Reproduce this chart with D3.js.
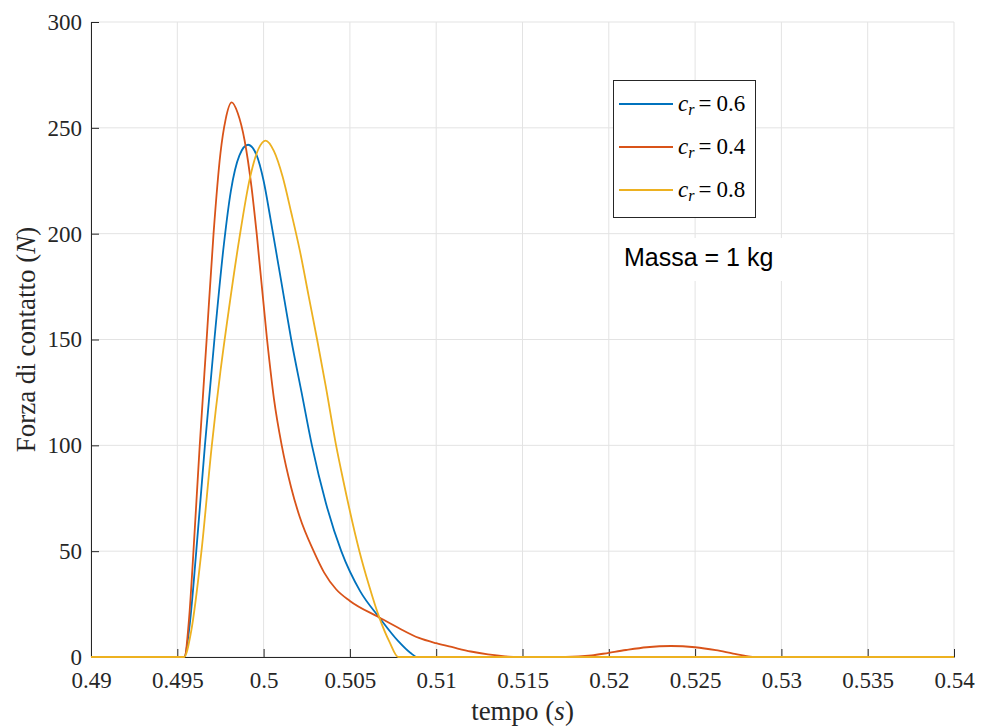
<!DOCTYPE html>
<html>
<head>
<meta charset="utf-8">
<script src="https://cdn.jsdelivr.net/npm/d3@7/dist/d3.min.js"></script>
<style>
  html, body { margin: 0; padding: 0; background: #fff; }
  svg { display: block; }
</style>
</head>
<body>
<svg id="chart" width="981" height="727"></svg>
<script>
// Contact force vs time for three restitution coefficients (mass = 1 kg)
const xTicks = [0.49, 0.495, 0.5, 0.505, 0.51, 0.515, 0.52, 0.525, 0.53, 0.535, 0.54];
const xTickLabels = ["0.49", "0.495", "0.5", "0.505", "0.51", "0.515", "0.52", "0.525", "0.53", "0.535", "0.54"];
const yTicks = [0, 50, 100, 150, 200, 250, 300];
const yTickLabels = ["0", "50", "100", "150", "200", "250", "300"];

// c_r = 0.6
const timeA = [0.490, 0.4954, 0.4957, 0.4961, 0.4966, 0.49715, 0.4977, 0.4981, 0.4986, 0.4991, 0.4996, 0.5000, 0.5004, 0.5008, 0.5012, 0.5016, 0.5022, 0.5028, 0.5036, 0.5045, 0.5056, 0.5067, 0.5078, 0.5085, 0.5089, 0.540];
const forceA = [0, 0, 14, 50, 100, 150, 195, 220, 237, 242, 237, 225, 207, 188, 169, 150, 125, 100, 73, 50, 31, 18.7, 7.5, 2, 0, 0];

// c_r = 0.4
const timeB = [0.490, 0.4954, 0.4957, 0.4959, 0.4963, 0.4967, 0.4971, 0.4975, 0.4978, 0.49815, 0.4985, 0.4989, 0.4993, 0.4996, 0.5002, 0.5006, 0.50105, 0.5016, 0.5021, 0.5029, 0.5035, 0.5042, 0.5050, 0.5067, 0.5078, 0.5090, 0.5100, 0.5110, 0.5120, 0.5130, 0.5140, 0.5147,
               0.5175, 0.5190, 0.5200, 0.5210, 0.5222, 0.5236, 0.5250, 0.5262, 0.5272, 0.5280, 0.5285, 0.540];
const forceB = [0, 0, 20, 45, 100, 150, 200, 238, 254, 262, 257, 244, 222, 200, 150, 122, 100, 80, 66, 50, 40, 32, 26.5, 18.7, 13.8, 9, 6.5, 4.5, 2.6, 1.2, 0.3, 0,
                0, 0.7, 2.0, 3.3, 4.6, 5.2, 4.6, 3.2, 1.6, 0.4, 0, 0];

// c_r = 0.8
const timeC = [0.490, 0.4954, 0.4958, 0.4964, 0.4970, 0.4975, 0.4980, 0.4986, 0.4992, 0.4997, 0.50012, 0.5006, 0.5011, 0.5016, 0.5021, 0.5026, 0.5031, 0.5036, 0.5042, 0.5046, 0.50555, 0.5061, 0.5067, 0.5073, 0.5078, 0.540];
const forceC = [0, 0, 12, 50, 100, 135, 165, 198, 226, 240, 244, 239, 227, 210, 192, 171, 150, 128, 100, 84, 50, 34, 18.7, 7, 0, 0];

const seriesValues = ["0.6", "0.4", "0.8"];
const colors = ["#0072BD", "#D95319", "#EDB120"];

const series = [
  { time: timeA, force: forceA, color: colors[0], label: seriesValues[0] },
  { time: timeB, force: forceB, color: colors[1], label: seriesValues[1] },
  { time: timeC, force: forceC, color: colors[2], label: seriesValues[2] }
];

const svg = d3.select("#chart");
const plotL = 91, plotR = 954, plotT = 22, plotB = 657;
const x = d3.scaleLinear().domain([0.49, 0.54]).range([plotL, plotR]);
const y = d3.scaleLinear().domain([0, 300]).range([plotB, plotT]);

const serif = "'Liberation Serif', 'DejaVu Serif', serif";
const axisColor = "#262626";

// grid
const grid = svg.append("g");
grid.selectAll(".gx").data(xTicks).enter().append("line")
  .attr("x1", d => x(d)).attr("x2", d => x(d))
  .attr("y1", plotT).attr("y2", plotB)
  .attr("stroke", "#e3e3e3").attr("stroke-width", 1);
grid.selectAll(".gy").data(yTicks).enter().append("line")
  .attr("x1", plotL).attr("x2", plotR)
  .attr("y1", d => y(d)).attr("y2", d => y(d))
  .attr("stroke", "#e3e3e3").attr("stroke-width", 1);

// axes
const xAxis = d3.axisBottom(x).tickValues(xTicks)
  .tickFormat((d, i) => xTickLabels[i]).tickSizeInner(-8).tickSizeOuter(0).tickPadding(15);
const yAxis = d3.axisLeft(y).tickValues(yTicks)
  .tickFormat((d, i) => yTickLabels[i]).tickSizeInner(-8).tickSizeOuter(0).tickPadding(9);

const gx = svg.append("g").attr("transform", `translate(0,${plotB})`).call(xAxis);
const gy = svg.append("g").attr("transform", `translate(${plotL},0)`).call(yAxis);
[gx, gy].forEach(g => {
  g.select(".domain").attr("stroke", axisColor).attr("stroke-width", 1);
  g.selectAll(".tick line").attr("stroke", axisColor).attr("stroke-width", 1);
  g.selectAll(".tick text").attr("fill", axisColor)
    .style("font-family", serif).style("font-size", "23px");
});

// curves
const line = d3.line().curve(d3.curveMonotoneX);
series.forEach(s => {
  const pts = s.time.map((t, i) => [x(t), y(s.force[i])]);
  svg.append("path").attr("d", line(pts))
    .attr("fill", "none").attr("stroke", s.color)
    .attr("stroke-width", 1.8).attr("stroke-linejoin", "round");
});

// axis labels
const xl = svg.append("text").attr("x", (plotL + plotR) / 2).attr("y", 720)
  .attr("text-anchor", "middle").attr("fill", axisColor)
  .style("font-family", serif).style("font-size", "27px");
xl.append("tspan").text("tempo (");
xl.append("tspan").attr("font-style", "italic").text("s");
xl.append("tspan").text(")");

const yl = svg.append("text")
  .attr("transform", `translate(35,${(plotT + plotB) / 2}) rotate(-90)`)
  .attr("text-anchor", "middle").attr("fill", axisColor)
  .style("font-family", serif).style("font-size", "27px");
yl.append("tspan").text("Forza di contatto (");
yl.append("tspan").attr("font-style", "italic").text("N");
yl.append("tspan").text(")");

// legend
const lg = svg.append("g");
lg.append("rect").attr("x", 613.5).attr("y", 80.5).attr("width", 142).attr("height", 137)
  .attr("fill", "#fff").attr("stroke", axisColor).attr("stroke-width", 1);
series.forEach((s, i) => {
  const cy = 104 + i * 43;
  lg.append("line").attr("x1", 619).attr("x2", 673).attr("y1", cy).attr("y2", cy)
    .attr("stroke", s.color).attr("stroke-width", 1.8);
  const t = lg.append("text").attr("x", 678).attr("y", cy + 7).attr("fill", "#000")
    .style("font-family", serif).style("font-size", "23px");
  t.append("tspan").attr("font-style", "italic").text("c");
  t.append("tspan").attr("font-style", "italic").attr("font-size", "16px").attr("dy", 4).text("r");
  t.append("tspan").attr("dy", -4).attr("dx", 4).text("=");
  t.append("tspan").attr("dx", 5).text(s.label);
});

// annotation
svg.append("rect").attr("x", 612).attr("y", 238).attr("width", 194).attr("height", 43).attr("fill", "#fff");
svg.append("text").attr("x", 624).attr("y", 266).attr("fill", "#000")
  .style("font-family", "'Liberation Sans', Arial, sans-serif").style("font-size", "25px")
  .text("Massa = 1 kg");
</script>
</body>
</html>
